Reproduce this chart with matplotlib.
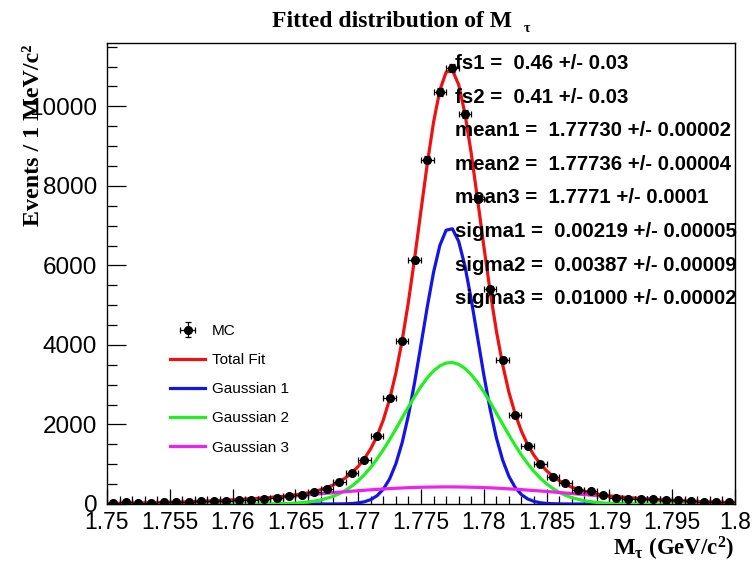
import numpy as np
import matplotlib.pyplot as plt
from matplotlib.ticker import FixedLocator, MultipleLocator

plt.rcParams['font.family'] = ['Liberation Sans', 'DejaVu Sans']
plt.rcParams['mathtext.fontset'] = 'custom'
plt.rcParams['mathtext.rm'] = 'Liberation Serif:bold'
plt.rcParams['mathtext.it'] = 'Liberation Serif:bold'
plt.rcParams['mathtext.bf'] = 'Liberation Serif:bold'

# MC histogram, 1 MeV bins
mc_x = np.round(np.arange(1.7505, 1.8, 0.001), 4)
mc_y = [20, 45, 35, 25, 40, 45, 50, 70, 70, 85,
        90, 95, 115, 160, 190, 220, 300, 385, 550, 780,
        1110, 1720, 2670, 4110, 6130, 8660, 10350, 10970, 9800, 7680,
        5410, 3630, 2230, 1470, 1010, 690, 530, 360, 320, 230,
        160, 115, 115, 130, 90, 90, 65, 50, 50, 45]

# fit curves
fit_x = [1.750, 1.752, 1.754, 1.756, 1.758, 1.760, 1.762, 1.764, 1.765, 1.766, 1.767, 1.768,
         1.7685, 1.769, 1.7695, 1.770, 1.7705, 1.771, 1.7715, 1.772, 1.7725, 1.773, 1.7735,
         1.774, 1.7745, 1.775, 1.7755, 1.776, 1.7765, 1.777, 1.7775, 1.778, 1.7785, 1.779,
         1.7795, 1.780, 1.7805, 1.781, 1.7815, 1.782, 1.7825, 1.783, 1.7835, 1.784, 1.7845,
         1.785, 1.7855, 1.786, 1.7865,
         1.787, 1.788, 1.789, 1.790, 1.792, 1.794, 1.796, 1.798, 1.800]
nan = np.nan
gaus1 = [nan, nan, nan, nan, nan, nan, nan, 0, 0, 0, 0, 1,
         2, 5, 12, 27, 56, 111, 208, 372, 629, 1012, 1543, 2234, 3071, 4005, 4958, 5828,
         6502, 6885, 6921, 6604, 5981, 5142, 4196, 3251, 2390, 1668, 1105, 695, 415, 235,
         126, 65, 31, 14, 6, 3, 1,
         0, 0, 0, 0, nan, nan, nan, nan, nan]
gaus2 = [0, 0, 0, 0, 0, 0, 1, 9, 22, 48, 99, 191,
         259, 345, 453, 583, 740, 923, 1132, 1364, 1617, 1887, 2166, 2442, 2709, 2956, 3172,
         3347, 3473, 3545, 3558, 3512, 3409, 3254, 3055, 2821, 2562, 2287, 2009, 1735, 1474,
         1231, 1011, 817, 649, 507, 390, 295, 219,
         160, 81, 39, 17, 3, 0, 0, 0, 0]
gaus3 = [11, 18, 30, 46, 69, 100, 138, 182, 207, 232, 258, 284,
         297, 310, 322, 334, 346, 357, 368, 378, 387, 395, 403, 410, 416, 421, 425, 427,
         429, 430, 430, 428, 426, 422, 418, 412, 406, 399, 390, 381, 372, 361, 350, 339,
         327, 315, 303, 289, 276,
         263, 237, 212, 187, 142, 103, 72, 48, 31]
total = np.nansum(np.vstack([gaus1, gaus2, gaus3]), axis=0)

params = ['fs1 =  0.46 +/- 0.03',
          'fs2 =  0.41 +/- 0.03',
          'mean1 =  1.77730 +/- 0.00002',
          'mean2 =  1.77736 +/- 0.00004',
          'mean3 =  1.7771 +/- 0.0001',
          'sigma1 =  0.00219 +/- 0.00005',
          'sigma2 =  0.00387 +/- 0.00009',
          'sigma3 =  0.01000 +/- 0.00002']

xticks = [1.75, 1.755, 1.76, 1.765, 1.77, 1.775, 1.78, 1.785, 1.79, 1.795, 1.8]
xticklabels = ['1.75', '1.755', '1.76', '1.765', '1.77', '1.775', '1.78', '1.785', '1.79', '1.795', '1.8']
yticks = [0, 2000, 4000, 6000, 8000, 10000]

fig = plt.figure(figsize=(7.54, 5.65), dpi=100)
ax = fig.add_axes([107/754, 1-504/565, 628/754, (504-42.7)/565])

l1, = ax.plot(fit_x, gaus1, color='#1414e6', lw=2.3, zorder=3)
l2, = ax.plot(fit_x, gaus2, color='#22ee22', lw=2.3, zorder=3)
l3, = ax.plot(fit_x, gaus3, color='#ee22ee', lw=2.3, zorder=3)
lt, = ax.plot(fit_x, total, color='#ee1111', lw=2.3, zorder=4)
mc = ax.errorbar(mc_x, mc_y, xerr=0.0005, yerr=np.sqrt(mc_y), fmt='o', color='black',
                 ms=5.5, elinewidth=0.9, capsize=2, capthick=0.9, zorder=5)

ax.set_xlim(1.75, 1.8)
ax.set_ylim(0, 11600)
ax.xaxis.set_major_locator(FixedLocator(xticks))
ax.set_xticklabels(xticklabels)
ax.xaxis.set_minor_locator(MultipleLocator(0.001))
ax.yaxis.set_major_locator(FixedLocator(yticks))
ax.yaxis.set_minor_locator(MultipleLocator(500))
ax.tick_params(axis='both', which='both', direction='in', top=False, right=False, width=0.9)
ax.tick_params(axis='x', which='major', length=11, pad=5, labelsize=16.5)
ax.tick_params(axis='x', which='minor', length=5.5)
ax.tick_params(axis='y', which='major', length=14, pad=7, labelsize=17.5)
ax.tick_params(axis='y', which='minor', length=7)
for s in ax.spines.values():
    s.set_linewidth(1)

leg = ax.legend([mc, lt, l1, l2, l3], ['MC', 'Total Fit', 'Gaussian 1', 'Gaussian 2', 'Gaussian 3'],
                loc='upper left', bbox_to_anchor=(170/754, 1-324/565), bbox_transform=fig.transFigure,
                frameon=False, fontsize=11, labelspacing=0.99, handlelength=2.3,
                handletextpad=0.45, borderpad=0, borderaxespad=0)

for i, p in enumerate(params):
    fig.text(455/754, 1-(69 + 33.6*i)/565, p, fontsize=14.7, fontweight='bold',
             ha='left', va='baseline', zorder=10)

fig.text(272/754, 1-27/565, 'Fitted distribution of M', family='Liberation Serif',
         fontweight='bold', fontsize=17, ha='left', va='baseline')
fig.text(524/754, 1-32/565, 'τ', family='Liberation Serif', fontweight='bold',
         fontsize=10, ha='left', va='baseline')
fig.text(39/754, 1-44/565, 'Events / 1 MeV/c²', family='Liberation Serif', fontweight='bold',
         fontsize=17.3, rotation=90, rotation_mode='anchor', ha='right', va='baseline')
fig.text(734/754, 1-556/565, r'M$_\tau$ (GeV/c$^2$)', family='Liberation Serif',
         fontweight='bold', fontsize=16.5, ha='right', va='baseline')

fig.savefig('out.png', dpi=100)
